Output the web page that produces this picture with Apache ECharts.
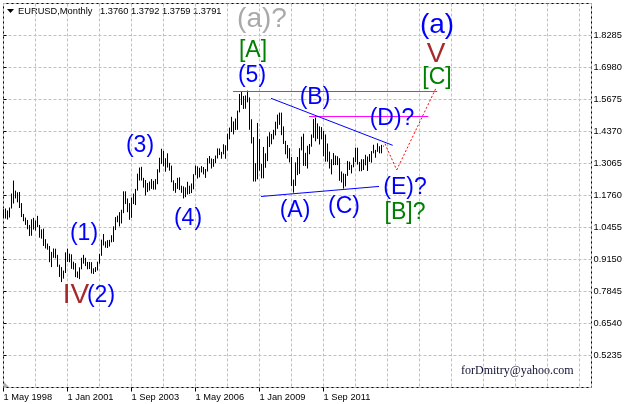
<!DOCTYPE html>
<html><head><meta charset="utf-8">
<script src="https://cdn.jsdelivr.net/npm/echarts@6/dist/echarts.min.js"></script>
<style>html,body{margin:0;padding:0;background:#fff}#c{width:627px;height:404px}</style>
</head><body><div id="c"></div>
<script>
// Monthly EURUSD bars, index 0 = May 1998 ... index 190 = Mar 2014
const highs = [
1.1200,1.1230,1.1150,1.1270,1.1840,1.2370,1.1960,1.1890,1.1905,1.1450,
1.1010,1.0860,1.0760,1.0560,1.0790,1.0850,1.0740,1.0930,1.0560,1.0380,
1.0410,0.9980,0.9800,0.9700,0.9460,0.9600,0.9590,0.9340,0.8940,0.8840,
0.8700,0.9440,0.9590,0.9390,0.9360,0.9060,0.9000,0.8660,0.8830,0.9220,
0.9340,0.9220,0.9050,0.9050,0.9040,0.8790,0.8840,0.9060,0.9380,0.9960,
1.0190,0.9890,0.9940,0.9950,1.0140,1.0500,1.0880,1.0940,1.1080,1.1180,
1.1930,1.1930,1.1640,1.1450,1.1680,1.1840,1.2030,1.2650,1.2900,1.2930,
1.2480,1.2390,1.2270,1.2330,1.2430,1.2360,1.2430,1.2830,1.3300,1.3667,
1.3580,1.3280,1.3480,1.3090,1.2980,1.2380,1.2270,1.2480,1.2500,1.2160,
1.2130,1.2090,1.2320,1.2160,1.2250,1.2630,1.2980,1.2950,1.2890,1.2960,
1.2920,1.2840,1.3280,1.3370,1.3270,1.3250,1.3390,1.3680,1.3680,1.3540,
1.3850,1.3810,1.4280,1.4530,1.4970,1.4780,1.4900,1.5220,1.5900,1.6020,
1.5820,1.5840,1.6038,1.5760,1.4870,1.4140,1.3080,1.4720,1.4060,1.3050,
1.3740,1.3480,1.4170,1.4340,1.4270,1.4440,1.4770,1.5060,1.5140,1.5140,
1.4580,1.3990,1.3820,1.3690,1.3330,1.2410,1.3110,1.3330,1.3690,1.4160,
1.4280,1.3500,1.3790,1.3860,1.4250,1.4880,1.4940,1.4700,1.4580,1.4550,
1.4390,1.4250,1.3880,1.3550,1.3240,1.3490,1.3390,1.3360,1.3280,1.2740,
1.2660,1.2640,1.3170,1.3140,1.3010,1.3310,1.3710,1.3710,1.3130,1.3240,
1.3240,1.3420,1.3350,1.3450,1.3570,1.3830,1.3620,1.3890,1.3770,1.3825,
1.3792];
const lows = [
1.0860,1.0820,1.0780,1.0860,1.1230,1.1430,1.1640,1.1480,1.1250,1.0880,
1.0710,1.0560,1.0380,1.0110,1.0120,1.0370,1.0330,1.0470,1.0040,1.0000,
0.9700,0.9600,0.9550,0.9040,0.8840,0.9220,0.9200,0.8850,0.8440,0.8228,
0.8370,0.8600,0.9050,0.9040,0.8770,0.8740,0.8430,0.8400,0.8350,0.8750,
0.8980,0.8880,0.8750,0.8760,0.8580,0.8560,0.8640,0.8700,0.8980,0.9300,
0.9720,0.9630,0.9620,0.9680,0.9850,0.9870,1.0350,1.0670,1.0500,1.0620,
1.1040,1.1410,1.1080,1.0770,1.0850,1.1410,1.1370,1.1960,1.2370,1.2370,
1.2080,1.1760,1.1900,1.1960,1.2030,1.2000,1.2000,1.2220,1.2700,1.3050,
1.2950,1.2730,1.2900,1.2770,1.2300,1.1950,1.1870,1.2030,1.1980,1.1870,
1.1640,1.1690,1.1800,1.1820,1.1860,1.2010,1.2600,1.2450,1.2500,1.2700,
1.2620,1.2480,1.2740,1.3070,1.2860,1.2930,1.3080,1.3270,1.3410,1.3260,
1.3440,1.3260,1.3590,1.4050,1.4350,1.4250,1.4430,1.4440,1.5150,1.5450,
1.5290,1.5300,1.5560,1.4440,1.3880,1.2330,1.2330,1.2420,1.2770,1.2460,
1.2460,1.2890,1.3160,1.3740,1.3850,1.4050,1.4210,1.4480,1.4640,1.4220,
1.3860,1.3440,1.3270,1.3110,1.2150,1.1876,1.2150,1.2590,1.2640,1.3600,
1.2970,1.2960,1.2860,1.3440,1.3750,1.4110,1.3970,1.4070,1.3840,1.4050,
1.3360,1.3140,1.3140,1.2860,1.2620,1.3000,1.3000,1.3000,1.2360,1.2290,
1.2040,1.2130,1.2560,1.2800,1.2660,1.2910,1.3120,1.3020,1.2750,1.2750,
1.2800,1.2990,1.2760,1.3130,1.3100,1.3480,1.3300,1.3540,1.3480,1.3480,
1.3759];

const xTickIdx = [0, 32, 64, 96, 128, 160];
const xTickLabels = ['1 May 1998', '1 Jan 2001', '1 Sep 2003', '1 May 2006', '1 Jan 2009', '1 Sep 2011'];
const yTicks = [0.5235, 0.6540, 0.7845, 0.9150, 1.0455, 1.1760, 1.3065, 1.4370, 1.5675, 1.6980, 1.8285];
const headerSymbol = 'EURUSD,Monthly';
const headerOHLC = ['1.3760', '1.3792', '1.3759', '1.3791'];
const watermark = 'forDmitry@yahoo.com';

// Elliott wave labels (month index, price)
const waveText = ['(a)?', '[A]', '(5)', '(B)', '(D)?', '(a)', 'V', '[C]', '(E)?', '[B]?', '(C)', '(A)', '(4)', '(1)', 'IV', '(2)', '(3)'];
const waveX = [129.25, 124.75, 124.25, 155.75, 194.25, 216.75, 216.25, 216.75, 200.75, 200.75, 170.25, 145.75, 92.25, 40.25, 36.25, 48.75, 68.25];
const waveY = [1.896, 1.765, 1.663, 1.574, 1.488, 1.871, 1.753, 1.655, 1.207, 1.105, 1.129, 1.113, 1.080, 1.019, 0.770, 0.766, 1.378];
const waveKind = ['gray', 'green', 'blue', 'blue', 'blue', 'blueBig', 'roman', 'green', 'blue', 'green', 'blue', 'blue', 'blue', 'blue', 'roman', 'blue', 'blue'];

// Trend lines (month index, price) pairs
const segX1 = [114.75, 152.75, 133.75, 128.75, 190.75, 196.6];
const segY1 = [1.600, 1.498, 1.5724, 1.172, 1.387, 1.280];
const segX2 = [216.9, 212.4, 194.6, 187.75, 196.6, 216.25];
const segY2 = [1.600, 1.498, 1.3807, 1.213, 1.280, 1.614];
const segKind = ['magenta', 'magenta', 'blue', 'blue', 'red', 'red'];

const FONT = "'Liberation Sans', Arial, sans-serif";
const textStyles = {
  gray:    {fill: '#a9a9a9', fontSize: 28},
  blueBig: {fill: '#0000ff', fontSize: 28},
  blue:    {fill: '#0000ff', fontSize: 23},
  green:   {fill: '#008000', fontSize: 23},
  roman:   {fill: '#a52a2a', fontSize: 28}
};
const lineStyles = {
  magenta: {stroke: '#ff00ff', lineWidth: 1},
  blue:    {stroke: '#0000ff', lineWidth: 1},
  red:     {stroke: '#ff0000', lineWidth: 1, lineDash: [2, 2]}
};

const chart = echarts.init(document.getElementById('c'), null, {renderer: 'canvas'});
const option = {
  animation: false,
  backgroundColor: '#ffffff',
  grid: {left: 3.5, right: 35.5, top: 3.5, bottom: 16.5, show: true, borderColor: '#000', borderWidth: 1, backgroundColor: 'transparent'},
  xAxis: [
    {type: 'value', min: 0, max: 294, position: 'bottom',
     axisLine: {show: false},
     axisTick: {show: true, customValues: xTickIdx, length: 4, lineStyle: {color: '#000'}},
     axisLabel: {customValues: xTickIdx, formatter: v => xTickLabels[xTickIdx.indexOf(v)] || '',
       align: 'left', margin: 5, fontSize: 9.3, color: '#000', fontFamily: FONT},
     splitLine: {show: false}},
    {type: 'value', min: 0, max: 294, interval: 16, position: 'top',
     axisLine: {show: false}, axisTick: {show: false}, axisLabel: {show: false},
     splitLine: {show: true, lineStyle: {color: '#c0c0c0', type: [3, 2], width: 1}}}
  ],
  yAxis: [
    {type: 'value', min: 0.393, max: 1.959, position: 'right',
     axisLine: {show: false},
     axisTick: {show: true, customValues: yTicks, length: 3, lineStyle: {color: '#000'}},
     axisLabel: {customValues: yTicks, formatter: v => v.toFixed(4), margin: 2, fontSize: 9.3, color: '#000', fontFamily: FONT},
     splitLine: {show: false}},
    {type: 'value', min: 0.393, max: 1.959, interval: 0.1305, position: 'left',
     axisLine: {show: false}, axisTick: {show: false}, axisLabel: {show: false},
     splitLine: {show: true, lineStyle: {color: '#c0c0c0', type: [3, 2], width: 1}}}
  ],
  graphic: [
    {type: 'polygon', shape: {points: [[7, 9], [14, 9], [10.5, 13]]}, style: {fill: '#000'}},
    {type: 'text', x: 18, y: 11, style: {text: headerSymbol, fill: '#000', font: '9.3px ' + FONT, verticalAlign: 'middle'}},
    {type: 'text', x: 100, y: 11, style: {text: headerOHLC.join(' '), fill: '#000', font: '9.3px ' + FONT, verticalAlign: 'middle'}},
    {type: 'polygon', shape: {points: [[4, 382], [4, 387], [9, 387]]}, style: {fill: '#b0b0b0'}},
    {type: 'text', x: 461, y: 371, style: {text: watermark, fill: '#101030', font: "12px 'Liberation Serif', 'Times New Roman', serif", verticalAlign: 'middle'}}
  ],
  series: [
    {type: 'custom', xAxisIndex: 0, yAxisIndex: 0, clip: true,
     data: highs.map((h, i) => [i, h, lows[i]]),
     encode: {x: 0, y: [1, 2]},
     renderItem: (params, api) => {
       const a = api.coord([api.value(0), api.value(1)]);
       const b = api.coord([api.value(0), api.value(2)]);
       return {type: 'line', shape: {x1: a[0], y1: a[1], x2: b[0], y2: b[1]}, style: {stroke: '#000', lineWidth: 1}};
     }},
    {type: 'custom', xAxisIndex: 0, yAxisIndex: 0,
     data: segX1.map((x, i) => [x, segY1[i], segX2[i], segY2[i], i]),
     encode: {x: [0, 2], y: [1, 3]},
     renderItem: (params, api) => {
       const a = api.coord([api.value(0), api.value(1)]);
       const b = api.coord([api.value(2), api.value(3)]);
       const s = lineStyles[segKind[api.value(4)]];
       return {type: 'line', shape: {x1: a[0], y1: a[1], x2: b[0], y2: b[1]}, style: Object.assign({fill: null}, s)};
     }},
    {type: 'custom', xAxisIndex: 0, yAxisIndex: 0,
     data: waveX.map((x, i) => [x, waveY[i], i]),
     encode: {x: 0, y: 1},
     renderItem: (params, api) => {
       const p = api.coord([api.value(0), api.value(1)]);
       const i = api.value(2);
       const s = textStyles[waveKind[i]];
       return {type: 'text', x: p[0], y: p[1], style: {text: waveText[i], fill: s.fill,
         font: s.fontSize + 'px ' + FONT, align: 'center', verticalAlign: 'middle'}};
     }}
  ]
};
chart.setOption(option);
</script></body></html>
